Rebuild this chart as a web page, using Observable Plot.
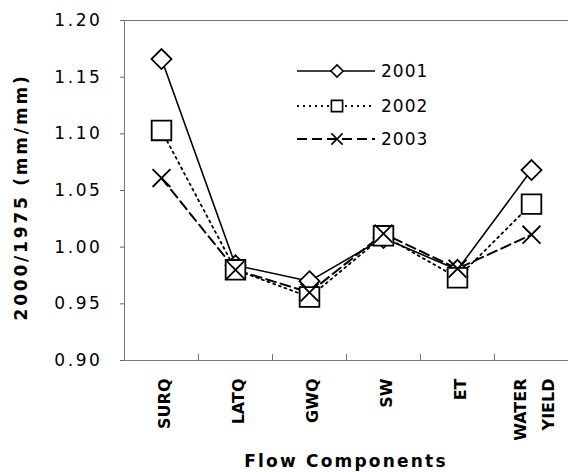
<!DOCTYPE html>
<html><head><meta charset="utf-8">
<script src="https://cdn.jsdelivr.net/npm/d3@7"></script>
<script src="https://cdn.jsdelivr.net/npm/@observablehq/plot@0.6"></script>
<style>
body{margin:0;background:#fff;font-family:"DejaVu Sans",sans-serif}
#chart{position:relative;width:568px;height:472px;overflow:hidden}
.ylab{position:absolute;left:21px;top:197px;transform:translate(-50%,-50%) rotate(-90deg);white-space:nowrap;font-weight:bold;font-size:17px;letter-spacing:2.8px;color:#000}
.xlab{position:absolute;left:346px;top:461px;transform:translate(-50%,-50%);white-space:nowrap;font-weight:bold;font-size:17px;letter-spacing:2.2px;color:#000}
</style>
</head><body><div id="chart"></div>
<script>
const categories = ["SURQ", "LATQ", "GWQ", "SW", "ET", "WATER\nYIELD"];
const years = ["2001", "2002", "2003"];
const v2001 = [1.166, 0.984, 0.970, 1.008, 0.980, 1.068];
const v2002 = [1.103, 0.980, 0.956, 1.010, 0.973, 1.038];
const v2003 = [1.061, 0.980, 0.960, 1.012, 0.981, 1.011];
const yTicks = [0.90, 0.95, 1.00, 1.05, 1.10, 1.15, 1.20];
const yLabel = "2000/1975 (mm/mm)";
const xLabel = "Flow Components";

const seriesValues = {"2001": v2001, "2002": v2002, "2003": v2003};
const styles = {
  "2001": {symbol: "diamond2", r: 9, dash: null, sw: 1.6, legSym: d3.symbolDiamond2, legSize: 95},
  "2002": {symbol: "square2", r: 12.5, dash: "2,4", sw: 1.8, legSym: d3.symbolSquare2, legSize: 160},
  "2003": {symbol: "times", r: 8.2, dash: "10,5", sw: 2, legSym: d3.symbolTimes, legSize: 85}
};
const rows = years.flatMap(y => categories.map((c, i) => ({year: y, cat: c, pos: i + 0.5, value: seriesValues[y][i]})));
const centers = categories.map((c, i) => i + 0.5);
const bounds = d3.range(1, categories.length);

const marks = [
  Plot.frame({stroke: "#777", strokeWidth: 1}),
  Plot.axisY({ticks: yTicks, tickFormat: d => d.toFixed(2), tickSize: 4, tickPadding: 18, fontSize: 17, label: null, stroke: "#666", fill: "#000"}),
  Plot.axisX({ticks: centers, tickFormat: d => categories[Math.round(d - 0.5)], tickSize: 0, tickRotate: -90, tickPadding: 18, fontSize: 16, fontWeight: "bold", lineHeight: 1.75, fill: "#000", label: null}),
  Plot.axisX({ticks: bounds, tickFormat: () => "", tickSize: 6, dy: -6, stroke: "#777", label: null})
];
for (const y of years) {
  const s = styles[y];
  const data = rows.filter(d => d.year === y);
  marks.push(Plot.line(data, {x: "pos", y: "value", stroke: "black", strokeWidth: s.sw, strokeDasharray: s.dash}));
}
for (const y of years) {
  const s = styles[y];
  const data = rows.filter(d => d.year === y);
  marks.push(Plot.dot(data, {x: "pos", y: "value", symbol: () => s.symbol, r: s.r, stroke: "black", fill: "white", strokeWidth: 1.8}));
}

const plot = Plot.plot({
  width: 568, height: 472,
  marginLeft: 124, marginRight: 0, marginTop: 20, marginBottom: 112,
  style: {fontFamily: "DejaVu Sans, sans-serif", color: "#000", background: "white"},
  x: {type: "linear", domain: [0, categories.length]},
  y: {domain: [0.90, 1.20]},
  symbol: {type: "identity"},
  marks
});
const chart = document.getElementById("chart");
chart.appendChild(plot);

const svg = d3.select(plot);
svg.selectAll('g[aria-label="y-axis tick label"] text').attr("letter-spacing", "2.6px");

// legend
const leg = svg.append("g").attr("font-family", "DejaVu Sans, sans-serif").attr("font-size", 17).attr("text-anchor", "start");
const rowY = [71, 106, 139];
years.forEach((y, k) => {
  const s = styles[y];
  const g = leg.append("g").attr("transform", `translate(0,${rowY[k]})`);
  g.append("line").attr("x1", 297).attr("x2", 375).attr("y1", 0).attr("y2", 0)
    .attr("stroke", "black").attr("stroke-width", s.sw).attr("stroke-dasharray", s.dash);
  g.append("path").attr("d", d3.symbol(s.legSym, s.legSize)()).attr("transform", "translate(337,0)")
    .attr("fill", "white").attr("stroke", "black").attr("stroke-width", 1.6);
  g.append("text").attr("x", 381).attr("y", 0).attr("dy", "0.35em").attr("fill", "#000").attr("letter-spacing", "1px").text(y);
});

const yl = document.createElement("div"); yl.className = "ylab"; yl.textContent = yLabel; chart.appendChild(yl);
const xl = document.createElement("div"); xl.className = "xlab"; xl.textContent = xLabel; chart.appendChild(xl);
</script>
</body></html>
